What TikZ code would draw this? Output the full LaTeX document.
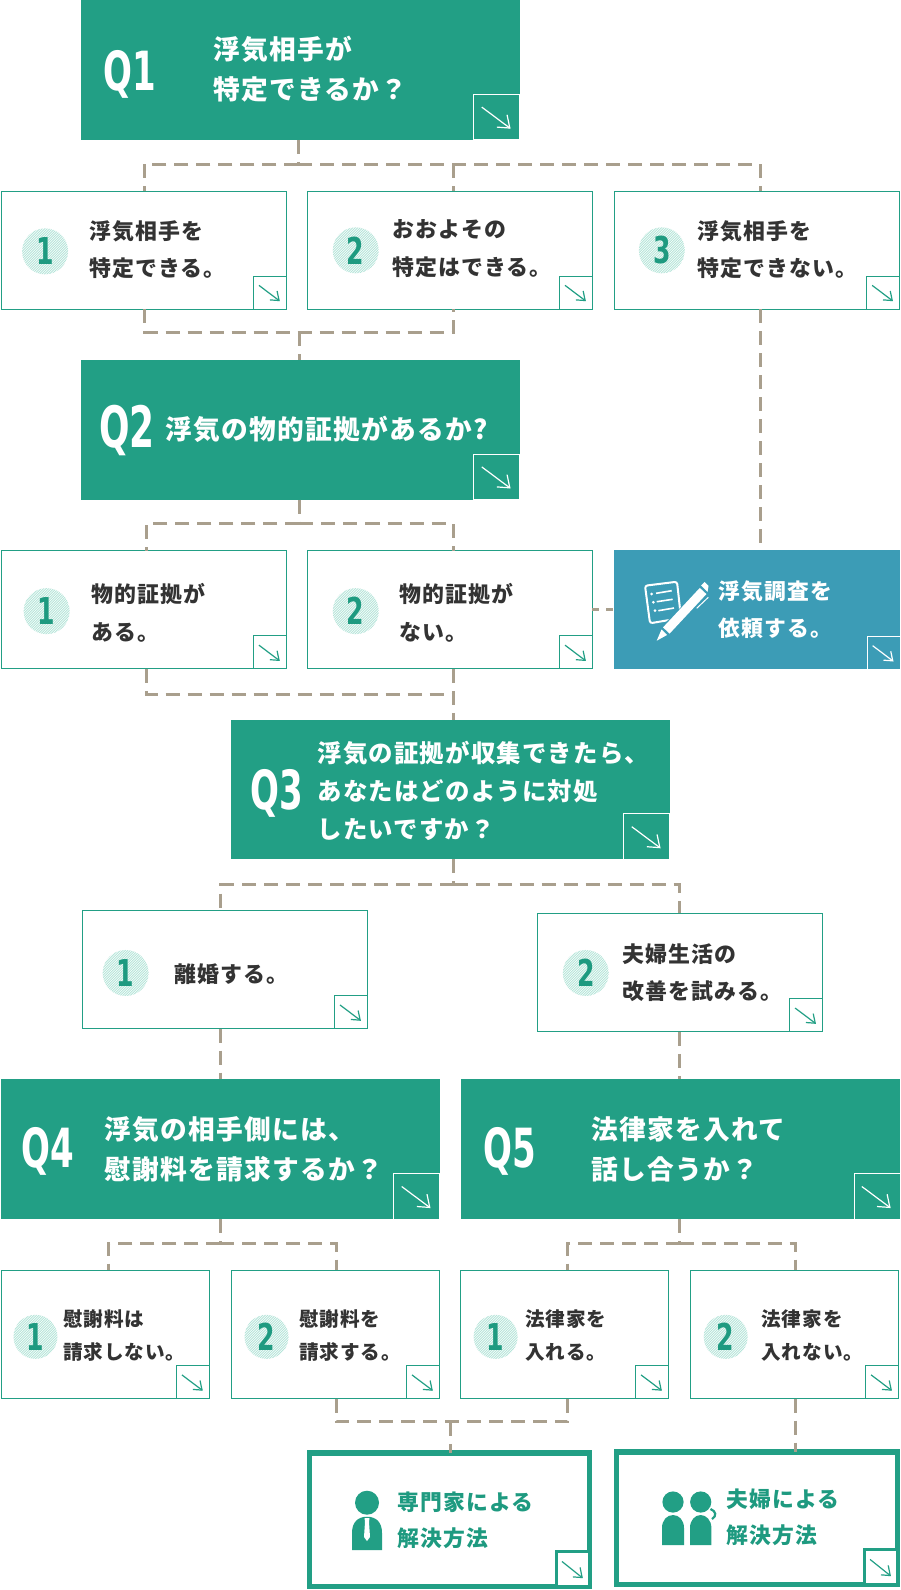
\documentclass[tikz,border=0pt]{standalone}
\usepackage{fontspec}
\usepackage{graphicx}
\setmainfont[LetterSpace=5]{Noto Sans CJK JP Black}
\newfontfamily\latinb{DejaVu Sans Bold}
\definecolor{teal1}{HTML}{229F85}
\definecolor{numteal}{HTML}{1E9A80}
\definecolor{blue1}{HTML}{3C9CB6}
\definecolor{dashc}{HTML}{A99F8D}
\definecolor{ink}{HTML}{333333}
\definecolor{hatchc}{HTML}{B5E5D9}
\tikzset{
  qbox/.style={fill=teal1,inner sep=0,outer sep=0},
  bbox/.style={fill=blue1,inner sep=0,outer sep=0},
  abox/.style={draw=teal1,fill=white,line width=1pt,inner sep=0,outer sep=0},
  rbox/.style={draw=teal1,fill=white,line width=5.5pt,inner sep=0,outer sep=0},
  dashline/.style={draw=dashc,line width=3pt,dash pattern=on 14pt off 8pt},
  shortdash/.style={draw=dashc,line width=3pt,dash pattern=on 7pt off 7pt},
  wq/.style={anchor=west,align=left,inner sep=0,text=white,font=\fontsize{26.7}{39.5}\selectfont},
  wqt/.style={anchor=west,align=left,inner sep=0,text=white,font=\fontsize{24.4}{38}\selectfont},
  wb/.style={anchor=west,align=left,inner sep=0,text=white,font=\fontsize{21.8}{37.5}\selectfont},
  at1/.style={anchor=west,align=left,inner sep=0,text=ink,font=\fontsize{21.9}{37.5}\selectfont},
  at2/.style={anchor=west,align=left,inner sep=0,text=ink,font=\fontsize{19.6}{33.5}\selectfont},
  et/.style={anchor=west,align=left,inner sep=0,text=numteal,font=\fontsize{21.8}{36.5}\selectfont},
  qlab/.style={inner sep=0,text=white,font=\latinb\fontsize{#1}{#1}\selectfont},
  numc/.style={circle,inner sep=0,outer sep=0,minimum size=#1,text=numteal,
    font=\latinb\fontsize{37}{37}\selectfont,
    path picture={\foreach \i in {-48,-45.5,...,48}{\draw[hatchc,line width=.9pt]
      ([xshift=\i pt-32pt,yshift=-32pt]path picture bounding box.center) --
      ([xshift=\i pt+32pt,yshift=32pt]path picture bounding box.center);}}},
  numc/.default=46pt,
}
\newcommand{\bx}[6]{%
  \pgfmathsetlengthmacro{\bxw}{(#5-#3)*1.01351}\pgfmathsetlengthmacro{\bxh}{(#6-#4)*1.01351}%
  \node[#1,anchor=north west,minimum width=\bxw,minimum height=\bxh] (#2) at (#3,#4) {};}
\newcommand{\crn}[6]{% box, size w, size h, border, fill, arrow colour
  \node[anchor=south east,inner sep=0,outer sep=0,minimum width=#2pt,minimum height=#3pt,fill=#5,#4] (#1c) at (#1.south east) {};
  \begin{scope}[shift={(#1c.north west)},x=#2pt,y=-#3pt]
    \draw[#6,line width=1.2pt,line join=miter] (.17,.28) -- (.78,.74);
    \draw[#6,line width=1.2pt,line join=miter] (.50,.72) -- (.78,.74) -- (.72,.45);
  \end{scope}}
\newcommand{\qnum}[1]{\scalebox{.63}[1]{#1}}
\newcommand{\dnum}[1]{\scalebox{.68}[1]{#1}}
\begin{document}
\begin{tikzpicture}[x=1.01351pt,y=-1.01351pt]
\useasboundingbox (0,0) rectangle (888,1568.8);
% junctions
\coordinate (j1) at (294.5,162);
\coordinate (j1l) at (143,162);
\coordinate (j1m) at (447,162);
\coordinate (j1r) at (750,162);
\coordinate (j2) at (295.5,328);
\coordinate (j2l) at (143,328);
\coordinate (j2r) at (447,328);
\coordinate (j3) at (295.5,517);
\coordinate (j3l) at (145,517);
\coordinate (j3r) at (447,517);
\coordinate (j4l) at (145,685);
\coordinate (j4r) at (447.5,685);
\coordinate (j5) at (447.5,873);
\coordinate (j5l) at (217.5,873);
\coordinate (j5r) at (670.5,873);
\coordinate (j6) at (217.5,1227);
\coordinate (j6l) at (107,1227);
\coordinate (j6r) at (332,1227);
\coordinate (j7) at (670.5,1227);
\coordinate (j7l) at (560,1227);
\coordinate (j7r) at (785,1227);
\coordinate (j8) at (444.5,1403);
\coordinate (j8l) at (332,1403);
\coordinate (j8r) at (560,1403);
\coordinate (j9) at (750,330);
\coordinate (j10) at (785,1400);
% boxes
\bx{qbox}{q1}{80}{0}{513}{138}
\bx{abox}{a1}{1.5}{188.5}{282.5}{305}
\bx{abox}{a2}{303.5}{188.5}{584.5}{305}
\bx{abox}{a3}{606.5}{188.5}{887.5}{305}
\bx{qbox}{q2}{80}{355}{513}{493}
\bx{abox}{b1}{1.5}{543.5}{282.5}{660}
\bx{abox}{b2}{303.5}{543.5}{584.5}{660}
\bx{bbox}{inv}{606}{543}{888}{660.5}
\bx{qbox}{q3}{228}{710}{661}{848}
\bx{abox}{c1}{81.5}{898}{362.5}{1015}
\bx{abox}{c2}{530.5}{901}{811.5}{1018}
\bx{qbox}{q4}{1}{1065}{434}{1203}
\bx{qbox}{q5}{455}{1065}{888}{1203}
\bx{abox}{d1}{1.5}{1253.5}{206.5}{1380}
\bx{abox}{d2}{228.5}{1253.5}{433.5}{1380}
\bx{abox}{d3}{454.5}{1253.5}{659.5}{1380}
\bx{abox}{d4}{681.5}{1253.5}{886.5}{1380}
\bx{rbox}{e1}{305.5}{1433.5}{581.5}{1565.5}
\bx{rbox}{e2}{608.5}{1432.5}{885.5}{1563.5}
% connectors
\draw[dashline] (q1.south -| j1) -- (j1);
\draw[dashline] (j1) -- (j1l);
\draw[dashline] (j1) -- (j1r);
\draw[dashline] (j1l) -- (a1.north -| j1l);
\draw[dashline] (j1m) -- (a2.north -| j1m);
\draw[dashline] (j1r) -- (a3.north -| j1r);
\draw[dashline] (a1.south -| j2l) -- (j2l) -- (j2r) -- (a2.south -| j2r);
\draw[dashline] (j2) -- (q2.north -| j2);
\draw[dashline] (a3.south -| j9) -- (inv.north -| j9);
\draw[dashline] (q2.south -| j3) -- (j3);
\draw[dashline] (j3) -- (j3l) -- (b1.north -| j3l);
\draw[dashline] (j3) -- (j3r) -- (b2.north -| j3r);
\draw[dashline] (b1.south -| j4l) -- (j4l) -- (j4r);
\draw[dashline] (b2.south -| j4r) -- (q3.north -| j4r);
\draw[shortdash] (b2.east) -- (inv.west);
\draw[dashline] (q3.south -| j5) -- (j5);
\draw[dashline] (j5) -- (j5l) -- (c1.north -| j5l);
\draw[dashline] (j5) -- (j5r) -- (c2.north -| j5r);
\draw[dashline] (c1.south -| j6) -- (q4.north -| j6);
\draw[dashline] (c2.south -| j7) -- (q5.north -| j7);
\draw[dashline] (q4.south -| j6) -- (j6);
\draw[dashline] (j6) -- (j6l) -- (d1.north -| j6l);
\draw[dashline] (j6) -- (j6r) -- (d2.north -| j6r);
\draw[dashline] (q5.south -| j7) -- (j7);
\draw[dashline] (j7) -- (j7l) -- (d3.north -| j7l);
\draw[dashline] (j7) -- (j7r) -- (d4.north -| j7r);
\draw[dashline] (d2.south -| j8l) -- (j8l) -- (j8);
\draw[dashline] (d3.south -| j8r) -- (j8r) -- (j8);
\draw[dashline] (j8) -- (e1.north -| j8);
\draw[dashline] (d4.south -| j10) -- (e2.north -| j10);
% corners
\crn{q1}{46}{45.5}{draw=white,line width=1pt}{teal1}{white}
\crn{q2}{46}{45.5}{draw=white,line width=1pt}{teal1}{white}
\crn{q3}{46}{45.5}{draw=white,line width=1pt}{teal1}{white}
\crn{q4}{46}{45.5}{draw=white,line width=1pt}{teal1}{white}
\crn{q5}{46}{45.5}{draw=white,line width=1pt}{teal1}{white}
\crn{inv}{33}{33}{draw=white,line width=1pt}{blue1}{white}
\crn{a1}{33}{33}{draw=teal1,line width=1pt}{white}{teal1}
\crn{a2}{33}{33}{draw=teal1,line width=1pt}{white}{teal1}
\crn{a3}{33}{33}{draw=teal1,line width=1pt}{white}{teal1}
\crn{b1}{33}{33}{draw=teal1,line width=1pt}{white}{teal1}
\crn{b2}{33}{33}{draw=teal1,line width=1pt}{white}{teal1}
\crn{c1}{33}{33}{draw=teal1,line width=1pt}{white}{teal1}
\crn{c2}{33}{33}{draw=teal1,line width=1pt}{white}{teal1}
\crn{d1}{33}{33}{draw=teal1,line width=1pt}{white}{teal1}
\crn{d2}{33}{33}{draw=teal1,line width=1pt}{white}{teal1}
\crn{d3}{33}{33}{draw=teal1,line width=1pt}{white}{teal1}
\crn{d4}{33}{33}{draw=teal1,line width=1pt}{white}{teal1}
\crn{e1}{33}{35}{draw=teal1,line width=2.5pt}{white}{teal1}
\crn{e2}{33}{35}{draw=teal1,line width=2.5pt}{white}{teal1}
% question labels
\node[qlab=54] (q1l) at (128,73) {\qnum{Q1}};
\node[qlab=57] (q2l) at (125.5,425) {\qnum{Q2}};
\node[qlab=54] (q3l) at (273,783) {\qnum{Q3}};
\node[qlab=54] (q4l) at (47,1136) {\qnum{Q4}};
\node[qlab=54] (q5l) at (503,1136) {\qnum{Q5}};
\node[wq] (q1t) at (210,68) {浮気相手が\\特定できるか？};
\node[wq] (q2t) at (163,423.5) {浮気の物的証拠があるか?};
\node[wqt] (q3t) at (313,780.5) {浮気の証拠が収集できたら、\\あなたはどのように対処\\したいですか？};
\node[wq] (q4t) at (103,1134) {浮気の相手側には、\\慰謝料を請求するか？};
\node[wq] (q5t) at (583,1134) {法律家を入れて\\話し合うか？};
% numbers
\node[numc] (a1n) at (44.5,248) {\dnum{1}};
\node[numc] (a2n) at (351,247) {\dnum{2}};
\node[numc] (a3n) at (653,247) {\dnum{3}};
\node[numc] (b1n) at (46,603) {\dnum{1}};
\node[numc] (b2n) at (351,603) {\dnum{2}};
\node[numc] (c1n) at (124,960) {\dnum{1}};
\node[numc] (c2n) at (578,960) {\dnum{2}};
\node[numc=44pt] (d1n) at (35,1319) {\dnum{1}};
\node[numc=44pt] (d2n) at (263,1319) {\dnum{2}};
\node[numc=44pt] (d3n) at (489,1319) {\dnum{1}};
\node[numc=44pt] (d4n) at (716,1319) {\dnum{2}};
% answer text
\node[at1] (a1t) at (88,246.5) {浮気相手を\\特定できる。};
\node[at1] (a2t) at (387,245.5) {おおよその\\特定はできる。};
\node[at1] (a3t) at (688,246.5) {浮気相手を\\特定できない。};
\node[at1] (b1t) at (90,604.5) {物的証拠が\\ある。};
\node[at1] (b2t) at (394,604.5) {物的証拠が\\ない。};
\node[wb] (invt) at (709,601.5) {浮気調査を\\依頼する。};
\node[at1] (c1t) at (172,961) {離婚する。};
\node[at1] (c2t) at (614,959.5) {夫婦生活の\\改善を試みる。};
\node[at2] (d1t) at (62,1317.5) {慰謝料は\\請求しない。};
\node[at2] (d2t) at (295,1317.5) {慰謝料を\\請求する。};
\node[at2] (d3t) at (518,1317.5) {法律家を\\入れる。};
\node[at2] (d4t) at (751,1317.5) {法律家を\\入れない。};
\node[et] (e1t) at (392,1500) {専門家による\\解決方法};
\node[et] (e2t) at (717,1497) {夫婦による\\解決方法};
% icons (drawn in full-size pixel coordinates)
\begin{scope}[x=1pt,y=-1pt]
  % form and pen
  \draw[white,line width=2pt,rounded corners=2.5pt] (645,585.7) -- (677,581.7) -- (681,618) -- (650,623.3) -- cycle;
  \fill[white] (651.7,594) circle (1.5) (653.3,602.3) circle (1.5) (655,610.7) circle (1.5);
  \draw[white,line width=1.6pt] (656,593.3) -- (671.7,590.7) (656.7,601.7) -- (672.7,599.3) (658.3,610.7) -- (674,608);
  \fill[blue1] (658,642) -- (664,624) -- (704,584) -- (712,594) -- (672,634) -- cycle;
  \fill[white] (656.7,640.7) -- (661.5,629.5) -- (667,635) -- cycle;
  \fill[white] (663,627.4) -- (699.8,587.9) -- (706.4,594.1) -- (669.6,633.6) -- cycle;
  \fill[white] (701,585.5) -- (704.5,582) -- (708.5,586) -- (707.5,592) -- cycle;
  \draw[white,line width=1pt] (696.7,608.3) -- (708.3,597.3);
  % lawyer
  \fill[teal1] (367,1502.7) circle (12);
  \fill[teal1] (352,1550) -- (352,1533) .. controls (352,1522) and (358,1516.7) .. (367,1516.7)
     .. controls (376,1516.7) and (382,1522) .. (382,1533) -- (382,1550) -- cycle;
  \fill[white] (364.5,1518) -- (369.5,1518) -- (369,1522) -- (370,1537) -- (367,1541) -- (364,1537) -- (365,1522) -- cycle;
  % couple
  \fill[teal1] (673,1502) circle (10.6) (700.7,1502) circle (10.6);
  \fill[teal1] (662,1545) -- (662,1528) .. controls (662,1520) and (667,1515) .. (673,1515)
     .. controls (679,1515) and (684,1520) .. (684,1528) -- (684,1545) -- cycle;
  \fill[teal1] (690,1545) -- (690,1528) .. controls (690,1520) and (695,1515) .. (700.7,1515)
     .. controls (706,1515) and (711.4,1520) .. (711.4,1528) -- (711.4,1545) -- cycle;
  \draw[teal1,line width=2.2pt] (710.5,1509) .. controls (716,1511) and (717,1516) .. (712,1519);
\end{scope}
\end{tikzpicture}
\end{document}
